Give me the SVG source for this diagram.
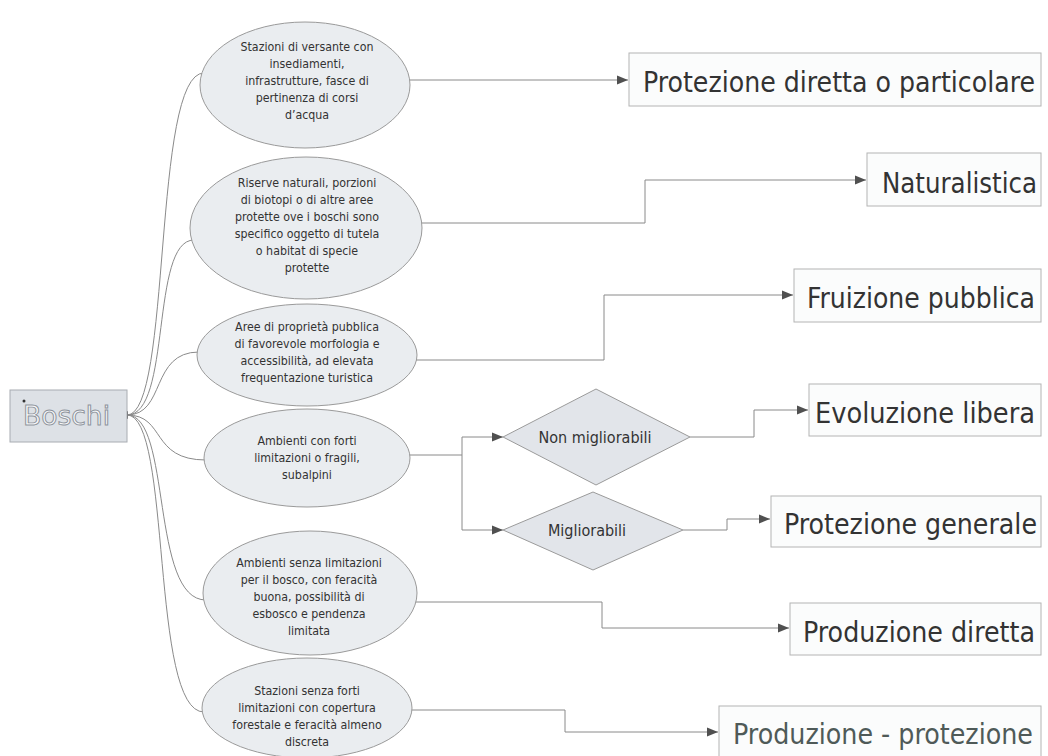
<svg xmlns="http://www.w3.org/2000/svg" width="1048" height="756" viewBox="0 0 1048 756">
<defs>
<style>
.ell{fill:#eaedf0;stroke:#9a9a9a;stroke-width:1}
.dia{fill:#e2e5ea;stroke:#9a9a9a;stroke-width:1}
.box{fill:#fbfcfc;stroke:#b4b4b4;stroke-width:1}
.conn{fill:none;stroke:#8a8a8a;stroke-width:1}
.st{font-family:'DejaVu Sans Condensed','DejaVu Sans',sans-serif;font-stretch:condensed;font-size:12.3px;fill:#333;text-anchor:middle}
.dt{font-family:'DejaVu Sans Condensed','DejaVu Sans',sans-serif;font-stretch:condensed;font-size:16px;fill:#333;text-anchor:middle}
.bt{font-family:'DejaVu Sans Condensed','DejaVu Sans',sans-serif;font-stretch:condensed;font-size:28px;fill:#333}
</style>
<marker id="ah" viewBox="0 0 11 10" refX="11" refY="5" markerWidth="11" markerHeight="10" markerUnits="userSpaceOnUse" orient="auto">
<path d="M0,0.5 L11,5 L0,9.5 z" fill="#505050"/>
</marker>
</defs>
<rect width="1048" height="756" fill="#ffffff"/>

<g id="connectors">
<path class="conn" d="M127 415 C172 415, 152 73, 204 73"/>
<path class="conn" d="M127 415 C172 415, 150 240, 194 240"/>
<path class="conn" d="M127 415 C166 415, 150 352, 199 352"/>
<path class="conn" d="M127 415 C166 415, 150 460, 206 460"/>
<path class="conn" d="M127 415 C172 415, 150 600, 206 600"/>
<path class="conn" d="M127 415 C172 415, 150 712, 204 712"/>
<path d="M118 415 L128 411 L128 419 z" fill="#555"/>
<path class="conn" d="M305 80 H628" marker-end="url(#ah)"/>
<path class="conn" d="M306 223 H645 V180 H866" marker-end="url(#ah)"/>
<path class="conn" d="M307 360 H604 V295 H793" marker-end="url(#ah)"/>
<path class="conn" d="M307 455 H462 V437 H503" marker-end="url(#ah)"/>
<path class="conn" d="M462 455 V530 H503" marker-end="url(#ah)"/>
<path class="conn" d="M690 437 H754 V410 H808" marker-end="url(#ah)"/>
<path class="conn" d="M683 530 H727 V519 H770" marker-end="url(#ah)"/>
<path class="conn" d="M310 602 H602 V628 H789" marker-end="url(#ah)"/>
<path class="conn" d="M307 710 H565 V732 H718" marker-end="url(#ah)"/>
</g>

<g id="boschi">
<rect x="10" y="390" width="117" height="52" fill="#dde1e6" stroke="#a8acb2" stroke-width="1"/>
<circle cx="24" cy="401" r="1.5" fill="#333"/>
<text x="23" y="425" textLength="87" lengthAdjust="spacingAndGlyphs" style="font-family:'DejaVu Sans Condensed','DejaVu Sans',sans-serif;font-stretch:condensed;font-size:26px;fill:#f7f8fa;stroke:#8e949c;stroke-width:0.9">Boschi</text>
</g>

<g id="e1">
<ellipse class="ell" cx="305" cy="85" rx="105" ry="63"/>
<text class="st" x="307" y="51">Stazioni di versante con</text>
<text class="st" x="307" y="68">insediamenti,</text>
<text class="st" x="307" y="85">infrastrutture, fasce di</text>
<text class="st" x="307" y="102">pertinenza di corsi</text>
<text class="st" x="307" y="119">d’acqua</text>
</g>

<g id="e2">
<ellipse class="ell" cx="306" cy="228" rx="116" ry="71"/>
<text class="st" x="307" y="187">Riserve naturali, porzioni</text>
<text class="st" x="307" y="204">di biotopi o di altre aree</text>
<text class="st" x="307" y="221">protette ove i boschi sono</text>
<text class="st" x="307" y="238">specifico oggetto di tutela</text>
<text class="st" x="307" y="255">o habitat di specie</text>
<text class="st" x="307" y="272">protette</text>
</g>

<g id="e3">
<ellipse class="ell" cx="307" cy="355" rx="110" ry="51"/>
<text class="st" x="307" y="331">Aree di proprietà pubblica</text>
<text class="st" x="307" y="348">di favorevole morfologia e</text>
<text class="st" x="307" y="365">accessibilità, ad elevata</text>
<text class="st" x="307" y="382">frequentazione turistica</text>
</g>

<g id="e4">
<ellipse class="ell" cx="307" cy="458" rx="103" ry="49"/>
<text class="st" x="307" y="445">Ambienti con forti</text>
<text class="st" x="307" y="462">limitazioni o fragili,</text>
<text class="st" x="307" y="479">subalpini</text>
</g>

<g id="e5">
<ellipse class="ell" cx="310" cy="593" rx="107" ry="62"/>
<text class="st" x="309" y="567">Ambienti senza limitazioni</text>
<text class="st" x="309" y="584">per il bosco, con feracità</text>
<text class="st" x="309" y="601">buona, possibilità di</text>
<text class="st" x="309" y="618">esbosco e pendenza</text>
<text class="st" x="309" y="635">limitata</text>
</g>

<g id="e6">
<ellipse class="ell" cx="307" cy="708" rx="105" ry="50"/>
<text class="st" x="307" y="695">Stazioni senza forti</text>
<text class="st" x="307" y="712">limitazioni con copertura</text>
<text class="st" x="307" y="729">forestale e feracità almeno</text>
<text class="st" x="307" y="746">discreta</text>
</g>

<g id="d1">
<polygon class="dia" points="503,437 596,389 690,437 596,485"/>
<text class="dt" x="595" y="443">Non migliorabili</text>
</g>

<g id="d2">
<polygon class="dia" points="503,530 593,492 683,530 593,570"/>
<text class="dt" x="587" y="536">Migliorabili</text>
</g>

<g id="b1">
<rect class="box" x="629" y="53" width="412" height="53"/>
<text class="bt" x="643" y="92" textLength="392" lengthAdjust="spacingAndGlyphs">Protezione diretta o particolare</text>
</g>
<g id="b2">
<rect class="box" x="867" y="153" width="174" height="53"/>
<text class="bt" x="882" y="193" textLength="155" lengthAdjust="spacingAndGlyphs">Naturalistica</text>
</g>
<g id="b3">
<rect class="box" x="794" y="269" width="247" height="53"/>
<text class="bt" x="807" y="308" textLength="228" lengthAdjust="spacingAndGlyphs">Fruizione pubblica</text>
</g>
<g id="b4">
<rect class="box" x="809" y="384" width="232" height="52"/>
<text class="bt" x="815" y="423" textLength="220" lengthAdjust="spacingAndGlyphs">Evoluzione libera</text>
</g>
<g id="b5">
<rect class="box" x="771" y="496" width="270" height="51"/>
<text class="bt" x="784" y="534" textLength="253" lengthAdjust="spacingAndGlyphs">Protezione generale</text>
</g>
<g id="b6">
<rect class="box" x="790" y="603" width="251" height="52"/>
<text class="bt" x="803" y="642" textLength="232" lengthAdjust="spacingAndGlyphs">Produzione diretta</text>
</g>
<g id="b7">
<rect class="box" x="719" y="706" width="322" height="56"/>
<text class="bt" x="733" y="744" textLength="300" lengthAdjust="spacingAndGlyphs" style="fill:#4f5a58">Produzione - protezione</text>
</g>
</svg>
